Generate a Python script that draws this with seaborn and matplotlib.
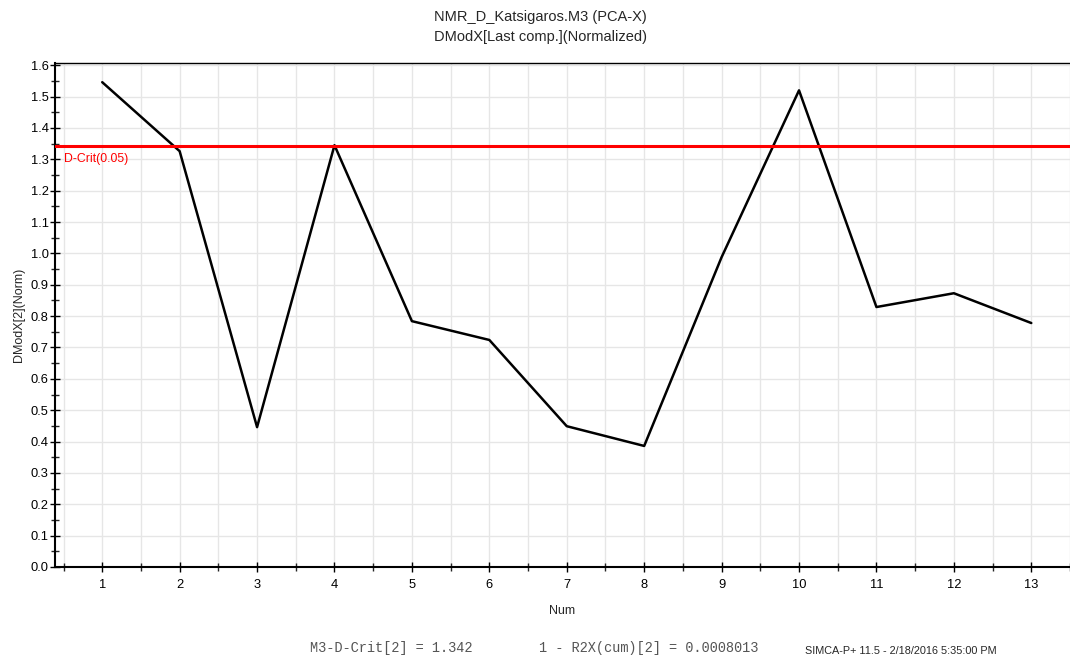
import matplotlib
matplotlib.use("Agg")
import matplotlib.pyplot as plt
import seaborn as sns
import pandas as pd
import numpy as np
from matplotlib.ticker import MultipleLocator

num = [1, 2, 3, 4, 5, 6, 7, 8, 9, 10, 11, 12, 13]
dmodx = [1.546, 1.326, 0.446, 1.345, 0.784, 0.724, 0.449, 0.386, 0.988, 1.520, 0.829, 0.873, 0.778]
dcrit = 1.342

sns.set_style("white")
plt.rcParams['font.family'] = ['Liberation Sans', 'DejaVu Sans']

df = pd.DataFrame({"Num": num, "DModX": dmodx})

fig = plt.figure(figsize=(10.7, 6.57), dpi=100)
ax = fig.add_axes([0.0514, 0.137, 0.9486, 0.767])

sns.lineplot(data=df, x="Num", y="DModX", ax=ax, color="black", linewidth=1.8)
ax.axhline(dcrit, color="#ff0000", linewidth=2.2, zorder=3)
ax.text(0.5, dcrit - 0.022, "D-Crit(0.05)", color="#ff0000", fontsize=8.8, va="top", ha="left")

ax.set_xlim(0.39, 13.5)
ax.set_ylim(0, 1.607)
ax.xaxis.set_major_locator(MultipleLocator(1))
ax.xaxis.set_minor_locator(MultipleLocator(0.5))
ax.yaxis.set_major_locator(MultipleLocator(0.1))
ax.yaxis.set_minor_locator(MultipleLocator(0.05))
ax.yaxis.set_major_formatter(matplotlib.ticker.FormatStrFormatter('%.1f'))

ax.grid(True, which="both", axis="x", color="#e6e6e6", linewidth=1)
ax.grid(True, which="major", axis="y", color="#e6e6e6", linewidth=1)
ax.set_axisbelow(True)

for s in ["left", "bottom", "top"]:
    ax.spines[s].set_color("black")
ax.spines["left"].set_linewidth(1.5)
ax.spines["bottom"].set_linewidth(1.5)
ax.spines["top"].set_linewidth(1.0)
ax.spines["right"].set_visible(False)

ax.tick_params(axis="both", which="major", direction="inout", length=7, width=1, labelsize=9.3, colors="black")
ax.tick_params(axis="both", which="minor", direction="inout", length=6, width=1)
ax.tick_params(axis="x", pad=5)
ax.tick_params(axis="y", pad=1)
ax.tick_params(bottom=True, left=True, which="both")

ax.set_xlabel("Num", fontsize=9, labelpad=10)
ax.set_ylabel("DModX[2](Norm)", fontsize=9, labelpad=4)

fig.text(0.505, 1 - 17/657, "NMR_D_Katsigaros.M3 (PCA-X)", ha="center", va="center", fontsize=10.5)
fig.text(0.505, 1 - 37/657, "DModX[Last comp.](Normalized)", ha="center", va="center", fontsize=10.5)

fig.text(310/1070, 1 - 648/657, "M3-D-Crit[2] = 1.342", family="Liberation Mono", fontsize=9.8, ha="left", va="center", color="#555555")
fig.text(539/1070, 1 - 648/657, "1 - R2X(cum)[2] = 0.0008013", family="Liberation Mono", fontsize=9.8, ha="left", va="center", color="#555555")
fig.text(805/1070, 1 - 651/657, "SIMCA-P+ 11.5 - 2/18/2016 5:35:00 PM", fontsize=7.8, ha="left", va="center")

fig.savefig("out.png", dpi=100)
